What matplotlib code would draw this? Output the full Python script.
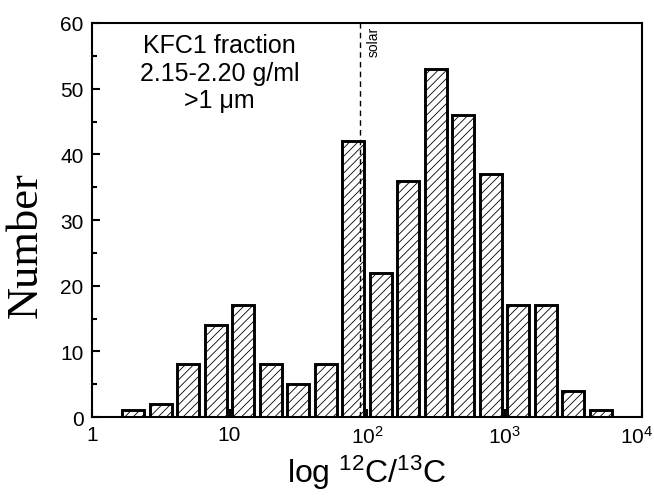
import numpy as np
import matplotlib
matplotlib.use("Agg")
import matplotlib.pyplot as plt
import matplotlib.transforms as mtransforms
from matplotlib.ticker import FixedLocator, FixedFormatter, NullFormatter

# --- Data ---
bin_centers = [2.0, 3.16, 5.01, 7.94, 12.6, 20.0, 31.6, 50.1, 79.4,
               126, 200, 316, 501, 794, 1259, 1995, 3162, 5012]
counts = [1, 2, 8, 14, 17, 8, 5, 8, 42, 22, 36, 53, 46, 37, 17, 17, 4, 1]
solar_ratio = 89
x_ticks = [1, 10, 100, 1000, 10000]
x_tick_labels = ["1", "10", r"10$^2$", r"10$^3$", r"10$^4$"]
x_minor = [3.16, 31.6, 316, 3162]
y_ticks = [0, 10, 20, 30, 40, 50, 60]
y_minor = [5, 15, 25, 35, 45, 55]

HALF_W = 10 ** 0.08   # bar half width as a ratio (log axis)

plt.rcParams["font.family"] = ["Liberation Sans", "DejaVu Sans"]
plt.rcParams["mathtext.fontset"] = "custom"
plt.rcParams["mathtext.rm"] = "Liberation Sans"
plt.rcParams["mathtext.it"] = "Liberation Sans:italic"
plt.rcParams["hatch.color"] = "#a8a8a8"
plt.rcParams["hatch.linewidth"] = 0.6

fig = plt.figure(figsize=(6.54, 5.02), dpi=100)
ax = fig.add_axes([0.1407, 0.1673, 0.841, 0.7849])

centers = np.array(bin_centers)
left = centers / HALF_W
right = centers * HALF_W
ax.bar(left, counts, width=right - left, align="edge",
       facecolor="white", edgecolor="black", linewidth=2.1,
       hatch="////", zorder=2)

ax.axvline(solar_ratio, color="black", linestyle=(0, (4, 3)), linewidth=1.0, zorder=3)
ax.text(solar_ratio * 1.12, 59.6, "solar", rotation=90, fontsize=10,
        ha="left", va="top")

ax.text(0.232, 0.975, "KFC1 fraction\n2.15-2.20 g/ml\n>1 \u03bcm",
        transform=ax.transAxes, ha="center", va="top", fontsize=18,
        linespacing=1.2)

ax.set_xscale("log")
ax.set_xlim(1, 10000)
ax.set_ylim(0, 60)
ax.xaxis.set_major_locator(FixedLocator(x_ticks))
ax.xaxis.set_major_formatter(FixedFormatter(x_tick_labels))
ax.xaxis.set_minor_locator(FixedLocator(x_minor))
ax.xaxis.set_minor_formatter(NullFormatter())
ax.yaxis.set_major_locator(FixedLocator(y_ticks))
ax.yaxis.set_minor_locator(FixedLocator(y_minor))

ax.tick_params(which="both", direction="in", top=False, right=False,
               width=1.5, labelsize=15, pad=6)
ax.tick_params(which="major", length=6)
ax.tick_params(which="minor", length=3.5)
for s in ax.spines.values():
    s.set_linewidth(1.5)

# nudge the last tick label left so it stays inside the figure
last = ax.get_xticklabels()[-1]
last.set_transform(last.get_transform() +
                   mtransforms.ScaledTranslation(-5 / 100, 0, fig.dpi_scale_trans))

ax.set_xlabel(r"log $^{12}$C/$^{13}$C", fontsize=23, labelpad=4)
ax.set_ylabel("Number", fontsize=32, family="Liberation Serif")
ax.yaxis.set_label_coords(-0.084, 0.44)

fig.savefig("out.png", dpi=100)
